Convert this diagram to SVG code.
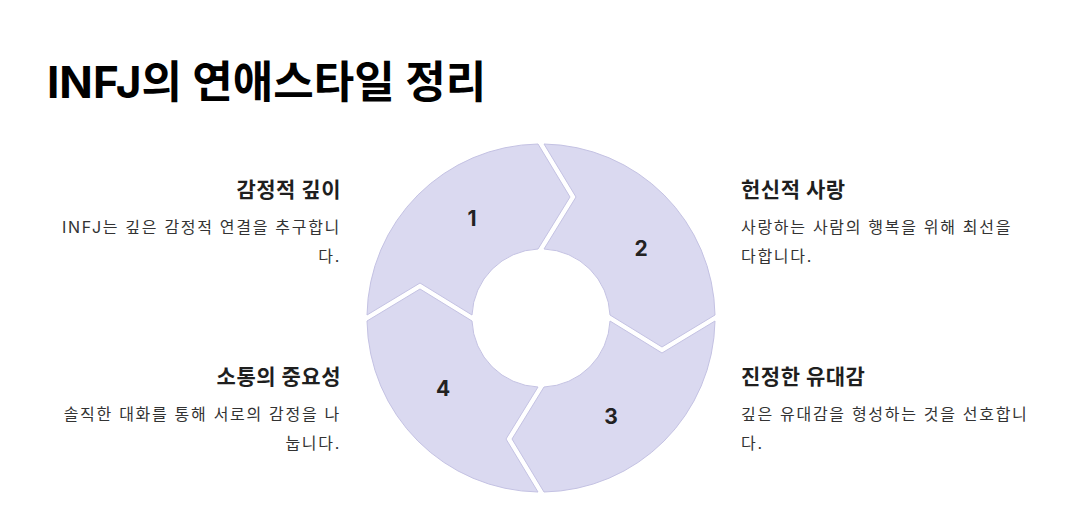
<svg xmlns="http://www.w3.org/2000/svg" width="1090" height="511" viewBox="0 0 1090 511">
<style>
.t{font-family:"Inter","Noto Sans CJK KR",sans-serif;font-weight:700;font-size:44px;fill:#000}
.h{font-family:"Inter","Noto Sans CJK KR",sans-serif;font-weight:700;font-size:21px;letter-spacing:0.5px;fill:#1f1f1f}
.b{font-family:"Inter","Noto Sans CJK KR",sans-serif;font-size:16px;letter-spacing:1.7px;fill:#333}
.n{font-family:"Inter","Noto Sans CJK KR",sans-serif;font-weight:700;font-size:21px;fill:#222;text-anchor:middle}
.seg{fill:#dad9f0;stroke:#c4c2e3;stroke-width:1}
.r{text-anchor:end}
</style>
<defs>
<path id="s" d="M3,-174 A174,174 0 0 1 174,-3 L121,29 L69,-3 A69,69 0 0 0 3,-69 L35,-121 Z"/>
</defs>
<rect width="1090" height="511" fill="#fff"/>
<text class="t" x="47" y="98">INFJ의 연애스타일 정리</text>
<g id="ring" transform="translate(541,318)">
<g id="seg1"><use href="#s" class="seg" transform="rotate(-90)"/></g>
<g id="seg2"><use href="#s" class="seg"/></g>
<g id="seg3"><use href="#s" class="seg" transform="rotate(90)"/></g>
<g id="seg4"><use href="#s" class="seg" transform="rotate(180)"/></g>
</g>
<g id="connectors"></g>
<text class="n" x="472" y="226">1</text>
<text class="n" x="641" y="256">2</text>
<text class="n" x="611" y="424">3</text>
<text class="n" x="443" y="396">4</text>
<g id="node1">
<text class="h r" x="341" y="197">감정적 깊이</text>
<text class="b r" x="341" y="233">INFJ는 깊은 감정적 연결을 추구합니</text>
<text class="b r" x="341" y="262">다.</text>
</g>
<g id="node2">
<text class="h" x="741" y="197">헌신적 사랑</text>
<text class="b" x="741" y="233">사랑하는 사람의 행복을 위해 최선을</text>
<text class="b" x="741" y="262">다합니다.</text>
</g>
<g id="node3">
<text class="h" x="741" y="384">진정한 유대감</text>
<text class="b" x="741" y="420">깊은 유대감을 형성하는 것을 선호합니</text>
<text class="b" x="741" y="449">다.</text>
</g>
<g id="node4">
<text class="h r" x="341" y="384">소통의 중요성</text>
<text class="b r" x="341" y="420">솔직한 대화를 통해 서로의 감정을 나</text>
<text class="b r" x="341" y="449">눕니다.</text>
</g>
</svg>
